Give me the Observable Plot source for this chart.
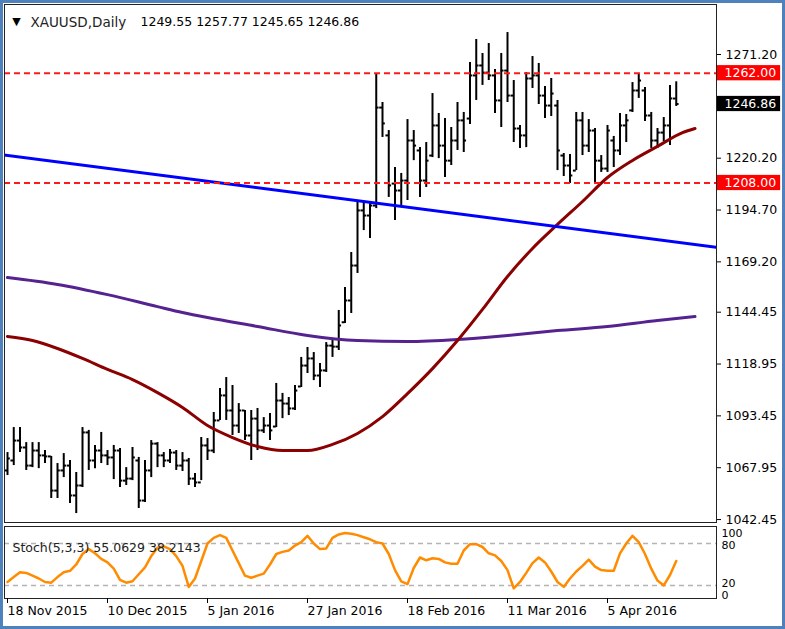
<!DOCTYPE html>
<html><head><meta charset="utf-8">
<script src="https://cdn.jsdelivr.net/npm/d3@7"></script>
<script src="https://cdn.jsdelivr.net/npm/@observablehq/plot@0.6"></script>
<style>
html,body{margin:0;padding:0;background:#fff;}
#wrap{position:relative;width:785px;height:629px;overflow:hidden;background:#fff;}
#wrap svg{position:absolute;left:0;}
#border{position:absolute;left:0;top:0;width:785px;height:629px;box-sizing:border-box;border:3px solid #4f81bd;pointer-events:none;z-index:5;}
</style></head><body>
<div id="wrap"><div id="border"></div></div>
<script>
// ---- data ----
const symbol = "XAUUSD";
const period = "Daily";
const openP  = [1066.6,1071.5,1081.3,1077.9,1069.0,1076.4,1074.0,1073.5,1056.7,1066.6,1069.0,1054.3,1059.2,1085.3,1071.5,1076.4,1074.0,1073.0,1076.4,1061.6,1062.6,1071.5,1051.8,1066.6,1079.8,1074.0,1071.5,1075.4,1069.0,1071.5,1062.6,1060.7,1078.9,1076.4,1091.2,1103.5,1096.1,1088.7,1096.1,1083.8,1092.1,1086.3,1088.7,1088.2,1101.0,1099.5,1097.1,1107.9,1118.2,1121.7,1113.3,1115.8,1128.0,1127.5,1139.5,1150.2,1167.4,1194.5,1192.0,1196.9,1245.1,1231.4,1207.7,1204.3,1209.2,1228.9,1224.0,1209.2,1221.5,1236.3,1226.4,1219.0,1228.9,1238.8,1239.7,1260.9,1265.8,1262.3,1260.9,1248.6,1263.3,1251.0,1234.8,1231.4,1259.4,1260.9,1251.0,1246.1,1246.1,1221.5,1216.6,1214.1,1238.8,1226.4,1233.8,1219.0,1215.1,1228.9,1224.0,1236.3,1243.7,1253.5,1253.5,1241.2,1228.9,1232.8,1236.3,1249.55];
const highP  = [1075.4,1087.7,1087.7,1080.3,1080.3,1080.3,1076.4,1073.5,1070.0,1074.9,1071.5,1065.6,1087.7,1086.3,1078.9,1085.3,1076.4,1078.9,1077.4,1068.0,1077.9,1073.0,1071.5,1081.3,1080.3,1075.4,1076.9,1076.4,1075.4,1072.5,1065.1,1082.8,1082.3,1095.1,1106.9,1112.3,1108.4,1099.5,1096.1,1096.1,1097.1,1092.6,1094.6,1109.4,1104.5,1102.5,1108.4,1122.2,1127.1,1124.6,1119.2,1129.5,1131.5,1145.3,1156.6,1173.8,1199.4,1198.4,1198.4,1261.8,1247.6,1233.8,1215.6,1212.7,1239.2,1233.8,1225.4,1227.9,1252.0,1242.2,1239.7,1235.3,1247.6,1242.7,1267.3,1278.6,1271.7,1276.6,1263.8,1271.7,1282.0,1258.4,1236.3,1262.3,1270.2,1266.8,1255.5,1259.4,1248.6,1222.5,1222.0,1242.7,1242.7,1239.2,1234.8,1221.5,1236.3,1230.9,1242.2,1241.7,1257.4,1261.4,1255.0,1242.7,1234.8,1240.2,1256.0,1257.77];
const lowP   = [1064.1,1069.0,1075.4,1066.6,1068.0,1067.5,1070.0,1052.8,1052.8,1063.1,1050.3,1045.4,1058.2,1066.6,1067.5,1070.0,1069.0,1062.1,1058.2,1059.2,1061.6,1047.9,1050.8,1063.1,1068.0,1068.0,1070.0,1066.6,1066.1,1059.2,1058.2,1061.6,1071.5,1074.9,1091.2,1091.2,1083.8,1084.8,1081.3,1071.5,1076.4,1084.8,1081.3,1087.7,1092.1,1093.6,1096.1,1107.4,1114.3,1110.8,1107.4,1114.8,1122.2,1125.6,1138.9,1143.8,1163.5,1184.6,1180.7,1195.4,1230.4,1200.9,1189.5,1195.9,1199.4,1219.0,1200.9,1205.8,1220.5,1220.0,1210.7,1216.6,1224.0,1223.0,1236.8,1248.6,1256.0,1258.4,1242.2,1235.3,1247.6,1227.9,1225.0,1225.4,1254.5,1246.6,1239.7,1240.7,1214.1,1211.2,1207.7,1214.1,1221.5,1223.0,1207.7,1213.2,1213.2,1215.6,1221.5,1227.9,1242.7,1249.6,1238.2,1225.0,1225.0,1228.4,1226.4,1245.65];
const closeP = [1072.5,1081.3,1077.9,1069.0,1076.4,1074.0,1073.5,1056.7,1066.6,1069.0,1054.3,1059.2,1085.3,1071.5,1076.4,1074.0,1073.0,1076.4,1061.6,1062.6,1073.0,1051.8,1066.6,1079.8,1074.0,1071.5,1075.4,1069.0,1071.5,1062.6,1060.7,1078.9,1076.4,1091.2,1103.5,1096.1,1088.7,1096.1,1083.8,1092.1,1086.3,1088.7,1086.3,1101.0,1099.5,1097.1,1105.9,1118.2,1121.7,1113.3,1115.8,1128.0,1127.5,1137.9,1150.2,1167.4,1194.5,1192.0,1196.9,1245.1,1237.3,1206.8,1204.3,1209.2,1228.9,1226.4,1209.2,1219.0,1236.3,1226.4,1219.0,1228.9,1238.8,1228.9,1260.9,1265.8,1262.3,1260.9,1248.6,1263.3,1251.0,1234.8,1231.4,1259.4,1260.9,1251.0,1246.1,1252.0,1224.0,1216.6,1211.7,1238.8,1226.4,1233.8,1219.0,1215.1,1233.8,1224.0,1236.3,1238.8,1253.5,1258.4,1241.2,1228.9,1232.8,1236.3,1249.6,1246.86];

// moving averages (sampled at bar indices)
const maRedIdx = [0,4,8,12,16,20,24,28,32,36,40,44,48,52,56,60,64,68,72,76,80,84,88,92,96,100,104,108,110];
const maRedVal = [1132.5,1130.5,1126.6,1121.7,1116.3,1111.3,1104.9,1097.6,1088.7,1082.8,1078.4,1076.4,1076.4,1079.4,1084.8,1093.1,1104.4,1116.7,1130.5,1145.8,1162.0,1175.8,1187.6,1198.9,1210.7,1219.1,1226.0,1232.8,1234.8];
const maPurpleIdx = [0,8,16,24,28,32,40,48,56,64,72,80,88,96,104,110];
const maPurpleVal = [1161.5,1158.1,1153.1,1147.2,1144.3,1141.8,1137.4,1133.0,1130.5,1130.0,1131.0,1133.0,1135.4,1137.4,1140.4,1142.3];

// trend line anchors
const trendIdx = [-1, 114];
const trendVal = [1222.0, 1176.1];

// horizontal levels
const hLevels = [1262.00, 1208.00];

// price axis ticks
const priceTicks = [1271.20,1220.20,1194.70,1169.20,1144.45,1118.95,1093.45,1067.95,1042.45];

// stochastic %K(5,3,3)
const stochK = [25,32,39,38,34,30,25,24,32,39,41,50,65,72,66,58,53,44,28,24,26,36,46,62,74,76,72,62,48,18,30,55,80,88,92,88,70,52,34,31,34,37,50,65,68,70,77,82,91,80,72,73,88,93,95,94,92,89,86,82,80,65,42,26,22,45,60,56,59,58,53,51,51,70,79,79,75,66,63,55,42,16,25,38,52,60,53,40,25,18,30,40,48,57,47,42,41,41,66,80,91,82,65,44,27,20,35,55.06];
const stochLabel = "Stoch(5,3,3) 55.0629 38.2143";
const stochLevels = [80, 20];
const stochScaleLabels = [100, 80, 20, 0];

// date axis
const dateTickIdx = [0,16,32,48,64,80,96];
const dateLabels = ["18 Nov 2015","10 Dec 2015","5 Jan 2016","27 Jan 2016","18 Feb 2016","11 Mar 2016","5 Apr 2016"];

// ---- build ----
const bars = openP.map((o,i)=>({i, open:o, high:highP[i], low:lowP[i], close:closeP[i]}));
const maRed = maRedIdx.map((i,k)=>({i, v:maRedVal[k]}));
const maPurple = maPurpleIdx.map((i,k)=>({i, v:maPurpleVal[k]}));
const trend = trendIdx.map((i,k)=>({i, v:trendVal[k]}));
const last = bars[bars.length-1];
const boxes = [
  {v:hLevels[0], color:"#ff0000"},
  {v:hLevels[1], color:"#ff0000"},
  {v:last.close, color:"#000000"}
];
const FONT = '"DejaVu Sans", Verdana, sans-serif';
const xDomain = [-0.48, 113.44];
// label box extent on the right-hand price scale (in bar-index units) and half height (price units)
const BOX_X1 = 113.6, BOX_X2 = 123.7, BOX_HALF = 3.75;

const main = Plot.plot({
  width:785, height:525,
  marginLeft:4, marginRight:69, marginTop:4, marginBottom:3,
  x:{domain:xDomain, axis:null, label:null},
  y:{domain:[1041.0,1295.8], axis:null, label:null},
  style:{fontFamily:FONT, fontSize:"12.5px", color:"#000", background:"transparent", overflow:"visible"},
  marks:[
    Plot.ruleX(bars,{x:"i", y1:"low", y2:"high", stroke:"#000", strokeWidth:2, clip:true}),
    Plot.ruleY(bars,{y:"open", x1:d=>d.i-0.45, x2:"i", stroke:"#000", strokeWidth:2, clip:true}),
    Plot.ruleY(bars,{y:"close", x1:"i", x2:d=>d.i+0.45, stroke:"#000", strokeWidth:2, clip:true}),
    Plot.line(maPurple,{x:"i", y:"v", curve:"monotone-x", stroke:"#55228f", strokeWidth:3, clip:true}),
    Plot.line(maRed,{x:"i", y:"v", curve:"monotone-x", stroke:"#8b0000", strokeWidth:3, clip:true}),
    Plot.line(trend,{x:"i", y:"v", stroke:"#0000ff", strokeWidth:3, clip:true}),
    Plot.ruleY(hLevels,{stroke:"#ff1a1a", strokeDasharray:"6,4", strokeWidth:2}),
    Plot.frame({stroke:"#222"}),
    Plot.axisY(priceTicks,{anchor:"right", label:null, tickSize:4, tickPadding:5, tickFormat:d=>d.toFixed(2), stroke:"#000"}),
    Plot.rect(boxes,{x1:()=>BOX_X1, x2:()=>BOX_X2, y1:d=>d.v-BOX_HALF, y2:d=>d.v+BOX_HALF, fill:d=>d.color}),
    Plot.text(boxes,{y:"v", frameAnchor:"right", dx:8, textAnchor:"start", text:d=>d.v.toFixed(2), fill:"#fff"}),
    Plot.text(["\u25BC"],{frameAnchor:"top-left", dx:12, dy:13, textAnchor:"middle", fontSize:11, fill:"#000"}),
    Plot.text([`${symbol},${period}`],{frameAnchor:"top-left", dx:26, dy:13, textAnchor:"start", fill:"#222", fontSize:13.5}),
    Plot.text([[last.open,last.high,last.low,last.close].map(v=>v.toFixed(2)).join(" ")],{frameAnchor:"top-left", dx:136, dy:13, textAnchor:"start", fill:"#000"})
  ]
});
main.style.top = "0px";
document.getElementById("wrap").appendChild(main);

const stochData = stochK.map((v,i)=>({i, v}));
const stoch = Plot.plot({
  width:785, height:104,
  marginLeft:4, marginRight:69, marginTop:1, marginBottom:31,
  x:{domain:xDomain, axis:null, label:null},
  y:{domain:[1.4,104.3], axis:null, label:null},
  style:{fontFamily:FONT, fontSize:"12.5px", color:"#000", background:"transparent", overflow:"visible"},
  marks:[
    Plot.ruleY(stochLevels,{stroke:"#b4b4b4", strokeDasharray:"5,4", strokeWidth:1.5}),
    Plot.line(stochData,{x:"i", y:"v", stroke:"#ff8c00", strokeWidth:2.5, clip:true}),
    Plot.frame({stroke:"#222"}),
    Plot.axisX(dateTickIdx,{anchor:"bottom", label:null, tickSize:5, tickPadding:3, textAnchor:"start", tickFormat:d=>dateLabels[dateTickIdx.indexOf(d)], stroke:"#000"}),
    Plot.text([stochLabel],{frameAnchor:"top-left", dx:8, dy:17, textAnchor:"start", fill:"#222"}),
    Plot.text([stochScaleLabels[0]],{y:d=>d, frameAnchor:"right", dx:5, dy:4, textAnchor:"start", text:d=>String(d), fill:"#000", fontSize:11}),
    Plot.text([stochScaleLabels[1]],{y:d=>d, frameAnchor:"right", dx:5, dy:2, textAnchor:"start", text:d=>String(d), fill:"#000", fontSize:11}),
    Plot.text([stochScaleLabels[2]],{y:d=>d, frameAnchor:"right", dx:5, dy:-2, textAnchor:"start", text:d=>String(d), fill:"#000", fontSize:11}),
    Plot.text([stochScaleLabels[3]],{y:d=>d, frameAnchor:"right", dx:5, dy:-4, textAnchor:"start", text:d=>String(d), fill:"#000", fontSize:11})
  ]
});
stoch.style.top = "525px";
document.getElementById("wrap").appendChild(stoch);
</script>
</body></html>
